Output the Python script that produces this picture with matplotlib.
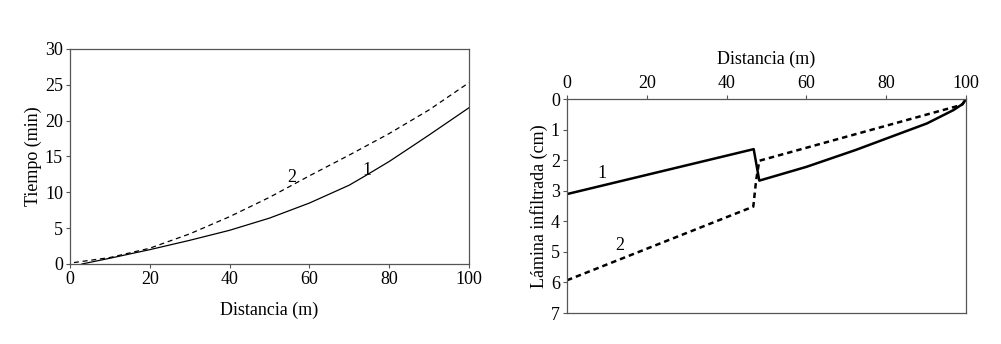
import matplotlib
matplotlib.use("Agg")
import matplotlib.pyplot as plt

plt.rcParams['font.family'] = ['Liberation Serif', 'DejaVu Serif']

# Left chart: advance time (min) vs distance (m)
dist_1 = [3, 10, 20, 30, 40, 50, 60, 70, 74, 80, 86.5, 90, 100]
time_1 = [0.0, 0.8, 2.0, 3.3, 4.7, 6.4, 8.5, 11.0, 12.3, 14.3, 16.7, 18.0, 21.8]
dist_2 = [1, 10, 20, 30, 40, 50, 60, 70, 80, 90, 100]
time_2 = [0.2, 0.9, 2.2, 4.2, 6.6, 9.3, 12.3, 15.2, 18.2, 21.5, 25.3]

# Right chart: infiltrated depth (cm) vs distance (m)
dist_inf_1 = [0, 46.8, 48.2, 60, 72.3, 90.2, 96.9, 99.2, 100]
depth_1 = [3.11, 1.64, 2.67, 2.22, 1.67, 0.80, 0.36, 0.16, 0.0]
dist_inf_2 = [0, 46.7, 47.4, 48.2, 99.0, 100]
depth_2 = [5.93, 3.52, 2.67, 2.02, 0.19, 0.0]

x_ticks = [0, 20, 40, 60, 80, 100]
y_ticks_left = [0, 5, 10, 15, 20, 25, 30]
y_ticks_right = [0, 1, 2, 3, 4, 5, 6, 7]

fs = 13
fig = plt.figure(figsize=(10.01, 3.44), dpi=100)

ax1 = fig.add_axes([0.0699, 0.2326, 0.3986, 0.625])
ax1.plot(dist_1, time_1, color='black', lw=0.9)
ax1.plot(dist_2, time_2, color='black', lw=0.9, ls=(0, (4, 3)))
ax1.set_xlim(0, 100)
ax1.set_ylim(0, 30)
ax1.set_xticks(x_ticks)
ax1.set_yticks(y_ticks_left)
ax1.tick_params(labelsize=fs, length=3, width=0.8, color='#555555', pad=2)
ax1.set_xlabel('Distancia (m)', fontsize=fs, labelpad=10)
ax1.set_ylabel('Tiempo (min)', fontsize=fs, labelpad=2)
for s in ax1.spines.values():
    s.set_color('#555555')
    s.set_linewidth(0.9)
ax1.text(55.6, 12.1, '2', fontsize=fs, ha='center', va='center')
ax1.text(74.4, 13.0, '1', fontsize=fs, ha='center', va='center')

ax2 = fig.add_axes([0.5664, 0.0901, 0.3986, 0.6221])
ax2.plot(dist_inf_1, depth_1, color='black', lw=1.8)
ax2.plot(dist_inf_2, depth_2, color='black', lw=1.8, ls=(0, (2.2, 1.6)))
ax2.set_xlim(0, 100)
ax2.set_ylim(7, 0)
ax2.set_xticks(x_ticks)
ax2.set_yticks(y_ticks_right)
ax2.xaxis.tick_top()
ax2.xaxis.set_label_position('top')
ax2.tick_params(labelsize=fs, length=3, width=0.8, color='#555555', pad=2)
ax2.set_xlabel('Distancia (m)', fontsize=fs, labelpad=8)
ax2.set_ylabel('Lámina infiltrada (cm)', fontsize=fs, labelpad=2)
for s in ax2.spines.values():
    s.set_color('#555555')
    s.set_linewidth(0.9)
ax2.text(8.8, 2.45, '1', fontsize=fs, ha='center', va='center')
ax2.text(13.3, 4.8, '2', fontsize=fs, ha='center', va='center')

fig.savefig('out.png', dpi=100)
